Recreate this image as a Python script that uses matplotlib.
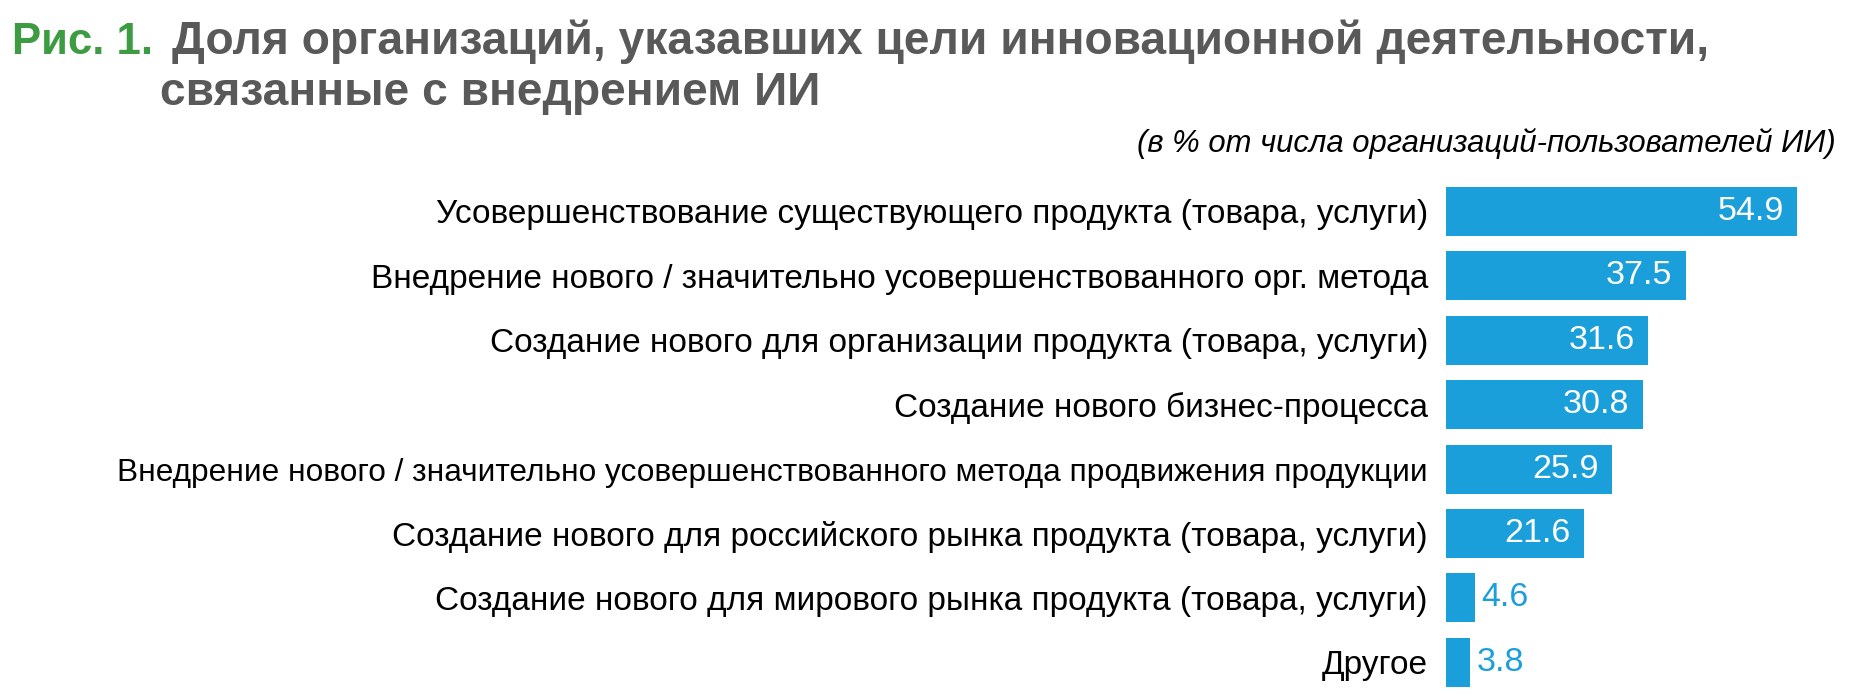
import matplotlib
matplotlib.use("Agg")
import matplotlib.pyplot as plt

plt.rcParams['font.family'] = ['Liberation Sans', 'DejaVu Sans']

categories = [
    "Усовершенствование существующего продукта (товара, услуги)",
    "Внедрение нового / значительно усовершенствованного орг. метода",
    "Создание нового для организации продукта (товара, услуги)",
    "Создание нового бизнес-процесса",
    "Внедрение нового / значительно усовершенствованного метода продвижения продукции",
    "Создание нового для российского рынка продукта (товара, услуги)",
    "Создание нового для мирового рынка продукта (товара, услуги)",
    "Другое",
]
values = [54.9, 37.5, 31.6, 30.8, 25.9, 21.6, 4.6, 3.8]

title_prefix = "Рис. 1."
title_line1 = "Доля организаций, указавших цели инновационной деятельности,"
title_line2 = "связанные с внедрением ИИ"
subtitle = "(в % от числа организаций-пользователей ИИ)"

bar_color = "#1a9fdb"
green = "#3d9b42"
gray = "#595959"

W, H = 1855, 700
fig = plt.figure(figsize=(W / 100, H / 100), dpi=100)

# axes placed in pixels: bars start at x=1446, ~6.39 px per unit, 64.4 px per row
x0 = 1446
xmax = 60
row = 64.4
top = 211.5 - row / 2
ax = fig.add_axes([x0 / W, (H - top - row * len(values)) / H,
                   xmax * 6.39 / W, row * len(values) / H])

ypos = list(range(len(values)))
ax.barh(ypos, values, height=0.76, color=bar_color)
ax.set_xlim(0, xmax)
ax.set_ylim(len(values) - 0.5, -0.5)
ax.set_yticks(ypos, categories, fontsize=24)
ax.tick_params(axis='y', length=0, pad=13)
ax.set_xticks([])
for s in ax.spines.values():
    s.set_visible(False)
# the long label is set a bit tighter in the original
ax.get_yticklabels()[4].set_fontsize(22.8)

for y, v in zip(ypos, values):
    if v > 10:
        ax.annotate(f"{v}", (v, y), xytext=(-9.5, 0), textcoords='offset points',
                    ha='right', va='center', color='white', fontsize=24.5)
    else:
        ax.annotate(f"{v}", (v, y), xytext=(4.5, 0), textcoords='offset points',
                    ha='left', va='center', color=bar_color, fontsize=24.5)

fig.text(12 / W, 1 - 54 / H, title_prefix, color=green, fontsize=31.5,
         fontweight='bold', va='baseline', ha='left')
fig.text(172 / W, 1 - 54 / H, title_line1, color=gray, fontsize=33.2,
         fontweight='bold', va='baseline', ha='left')
fig.text(160 / W, 1 - 105 / H, title_line2, color=gray, fontsize=33.2,
         fontweight='bold', va='baseline', ha='left')
fig.text(1836 / W, 1 - 152 / H, subtitle, color='black', fontsize=22.3,
         style='italic', va='baseline', ha='right')

fig.savefig("out.png", dpi=100)
